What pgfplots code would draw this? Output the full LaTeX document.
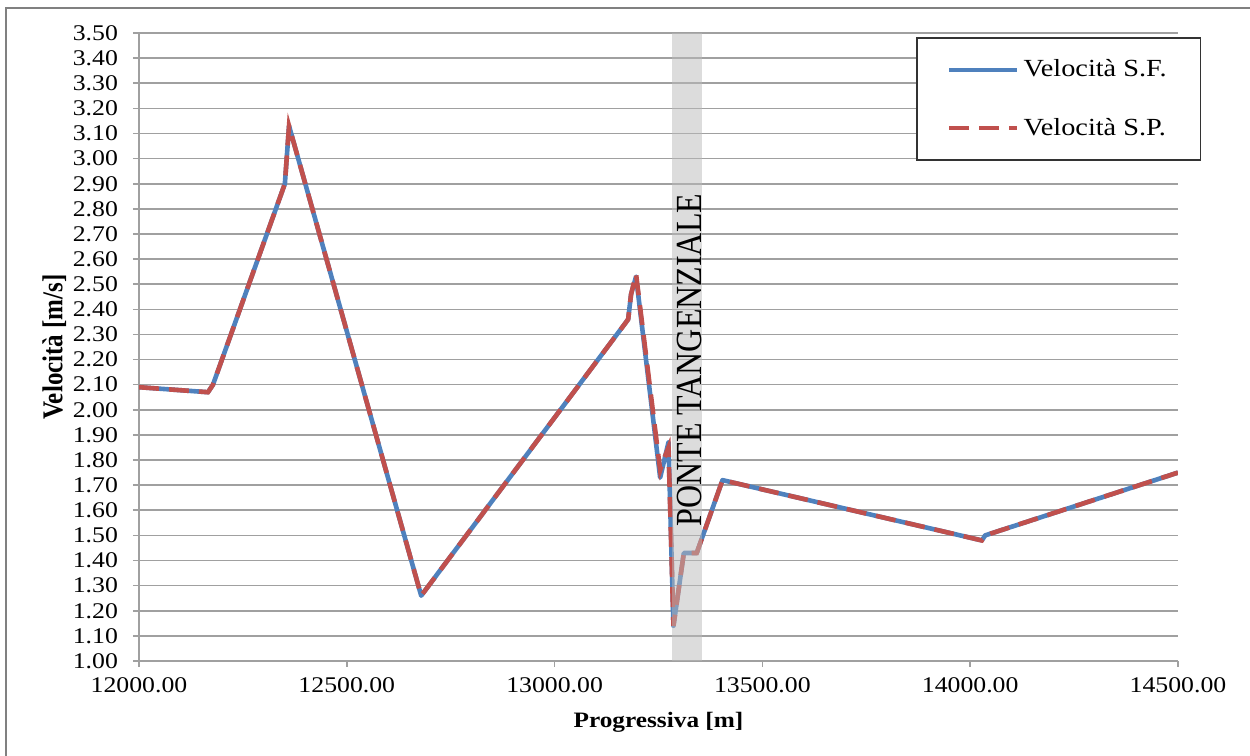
\documentclass[border=0pt]{standalone}
\usepackage{pgfplots}
\pgfplotsset{compat=1.18}
\usepackage{fontspec}
\usepackage{graphicx}
\setmainfont[FakeStretch=1.15]{Liberation Serif}
\newfontfamily\rotfont{Liberation Serif}
\definecolor{sfblue}{HTML}{4F81BD}
\definecolor{spred}{HTML}{C0504D}
\definecolor{gridgray}{HTML}{A0A0A0}
\begin{document}
\begin{tikzpicture}
\useasboundingbox (0,0) rectangle (625pt,378pt);
\draw[gray, line width=1pt] (3pt,0) -- (3pt,374pt) -- (625pt,374pt);
\begin{axis}[
  at={(69.5pt,47.5pt)}, anchor=south west,
  scale only axis, width=519.5pt, height=314pt,
  xmin=12000, xmax=14500, ymin=1, ymax=3.5,
  axis x line*=bottom, axis y line*=left,
  axis line style={gridgray, line width=0.8pt},
  xtick={12000,12500,13000,13500,14000,14500},
  ytick={1.0,1.1,1.2,1.3,1.4,1.5,1.6,1.7,1.8,1.9,2.0,2.1,2.2,2.3,2.4,2.5,2.6,2.7,2.8,2.9,3.0,3.1,3.2,3.3,3.4,3.5},
  scaled x ticks=false, scaled y ticks=false,
  tick align=outside, major tick length=3pt,
  tick style={gridgray, line width=0.8pt},
  ymajorgrids, major grid style={gridgray, line width=0.8pt},
  /pgf/number format/assume math mode=true,
  /pgf/number format/.cd, fixed, fixed zerofill, precision=2, 1000 sep={},
  /pgfplots/.cd,
  ticklabel style={font=\fontsize{11.2}{12}\selectfont, text=black},
  xticklabel style={yshift=-2pt},
  yticklabel style={xshift=-4pt},
  xlabel={\bfseries Progressiva [m]},
  xlabel style={font=\fontsize{11}{13}\selectfont, yshift=-2.5pt},
  ylabel={\scalebox{1}[1.15]{\rotfont\bfseries Velocità [m/s]}},
  ylabel style={font=\fontsize{12.5}{15}\selectfont, yshift=-3.5pt},
  legend style={at={(0.748,0.9936)}, anchor=north west, draw=black!80, line width=0.8pt,
    font=\fontsize{12.3}{14}\selectfont, inner xsep=15pt, inner ysep=9pt, row sep=15pt},
  legend cell align=left,
  legend image code/.code={\draw[#1] (0pt,0pt) -- (34pt,0pt);},
]
\addplot[sfblue, line width=2.3pt, line join=round] coordinates {
(12000,2.09) (12166,2.07) (12178,2.10) (12351,2.90) (12361,3.13) (12679,1.26)
(13177,2.36) (13184,2.46) (13196,2.53) (13254,1.73) (13274,1.87) (13286,1.14)
(13311,1.43) (13342,1.43) (13404,1.72) (14028,1.48) (14036,1.50) (14500,1.75)};
\addlegendentry{Velocità S.F.}
\addplot[spred, line width=2.3pt, dash pattern=on 10pt off 5pt] coordinates {
(12000,2.09) (12166,2.07) (12178,2.10) (12351,2.90) (12361,3.13) (12679,1.26)
(13177,2.36) (13184,2.46) (13196,2.54) (13254,1.76) (13262,1.80) (13274,1.85) (13286,1.14)
(13311,1.43) (13342,1.43) (13404,1.72) (14028,1.48) (14036,1.50) (14500,1.75)};
\addlegendentry{Velocità S.P.}
\addplot[fill=black!27, fill opacity=0.5, draw=none, forget plot] coordinates {
(13282,1) (13355,1) (13355,3.5) (13282,3.5)} -- cycle;
\node[rotate=90, font=\fontsize{16}{18}\selectfont] at (axis cs:13324,2.198) {\scalebox{1}[1.15]{\rotfont PONTE TANGENZIALE}};
\end{axis}
\end{tikzpicture}
\end{document}
